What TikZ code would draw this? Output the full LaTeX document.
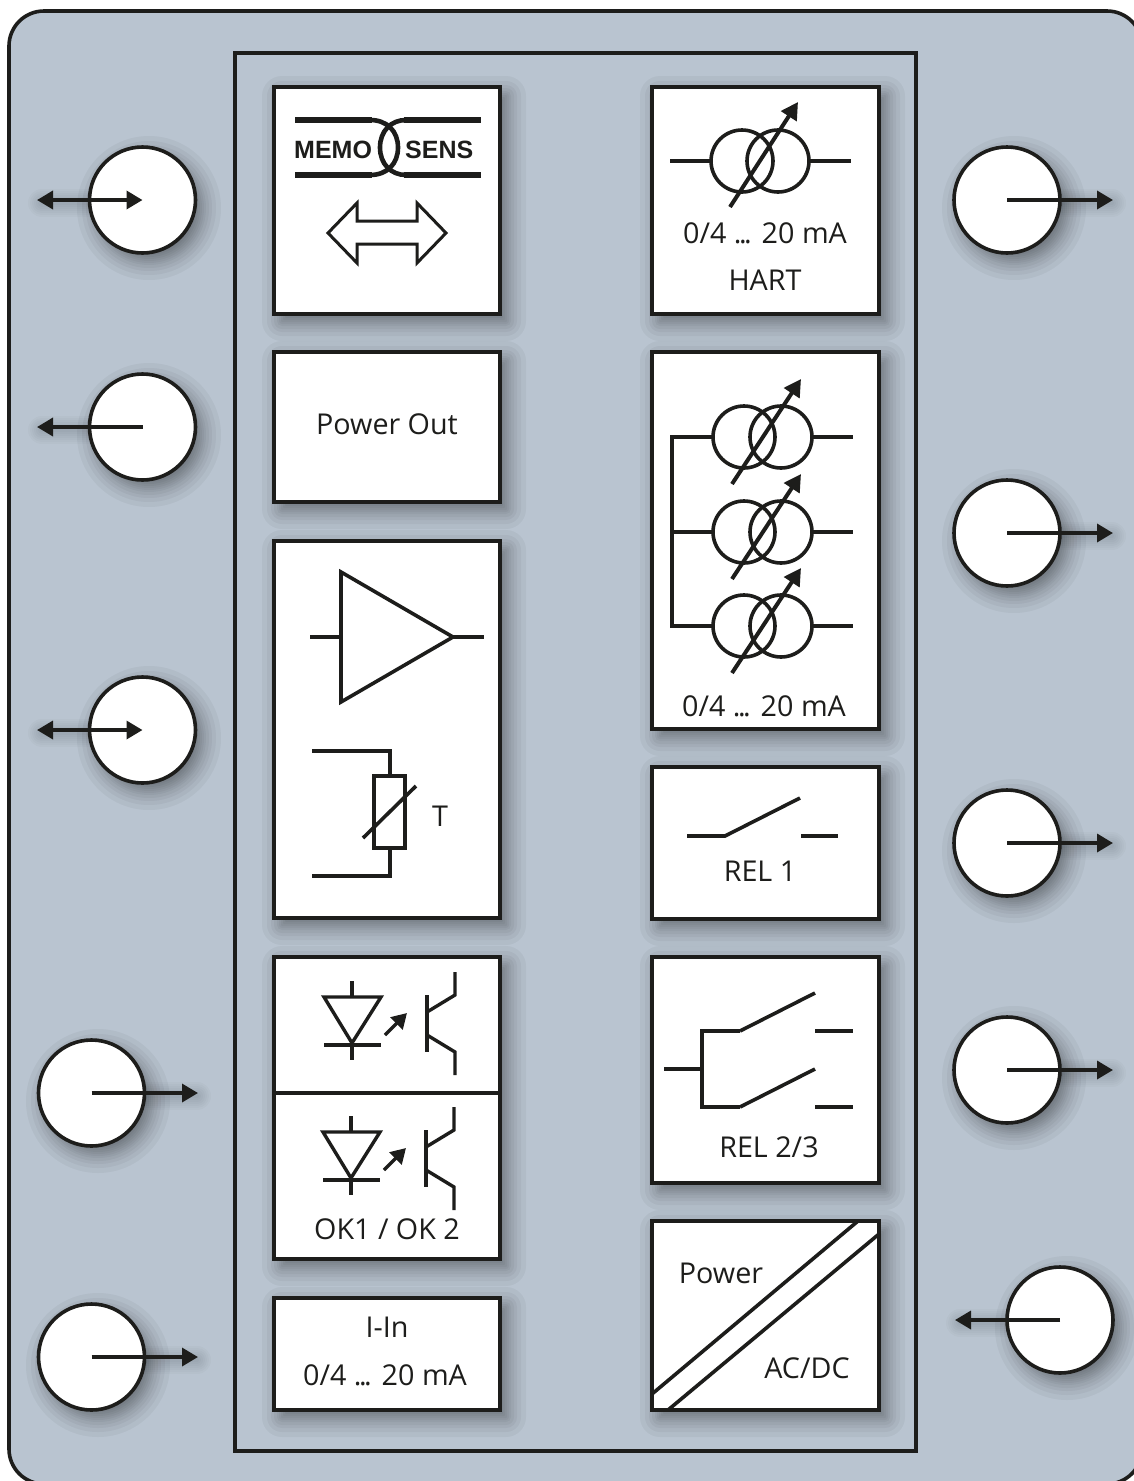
\documentclass[tikz,border=0pt]{standalone}
\usepackage{fontspec}
\setmainfont{Open Sans}
\newfontfamily\memofont{Liberation Sans}[BoldFont={Liberation Sans Bold}]
\usetikzlibrary{arrows.meta}
\definecolor{ink}{HTML}{1D1D1B}
\definecolor{panel}{HTML}{B9C4D0}
\tikzset{
  ln/.style={draw=ink,line width=3.6pt},
  thin ln/.style={draw=ink,line width=3.4pt},
  boxn/.style={draw=ink,line width=3.6pt,fill=white,inner sep=0pt,outer sep=0pt},
  port/.style={circle,draw=ink,line width=3.6pt,fill=white,minimum size=106pt,inner sep=0pt,outer sep=0pt},
  lab/.style={text=ink,font=\fontsize{28.7}{28.7}\selectfont,inner sep=0pt,anchor=base},
  memolab/.style={text=ink,font=\memofont\bfseries\fontsize{25}{25}\selectfont,inner sep=0pt,anchor=base},
  wire/.style={draw=ink,line width=3.5pt,arrows={-Triangle[length=16pt,width=18pt]}},
  wirel/.style={draw=ink,line width=3.5pt,arrows={Triangle[length=16pt,width=18pt]-Triangle[length=16pt,width=18pt]}},
  big tip/.style={draw=ink,line width=4pt,arrows={-Triangle[length=17pt,width=18pt]}},
  small tip/.style={draw=ink,line width=3.4pt,arrows={-Triangle[length=15pt,width=17pt]}},
  veil/.style={fill=black,fill opacity=0.04,draw=none},
}
\newcommand{\dotsrun}{.\kern-2.5pt.\kern-2.5pt.}
% soft shadow of a box
\newcommand{\boxveil}[4]{%
  \foreach \d in {-10,-8,-6,-4,-2,0,2,4,7,10,14,19}{%
    \fill[veil,rounded corners={max(\d,0)*1pt+1pt}] ({#1+7-\d},{#2+8-\d}) rectangle ({#3+7+\d},{#4+8+\d});
  }}
% soft shadow of a port
\newcommand{\portveil}[2]{%
  \foreach \d in {-10,-8,-6,-4,-2,0,2,4,7,10,14,19}{%
    \fill[veil] ({#1+7},{#2+8}) circle[radius={53+\d}];
  }}
% soft shadow of an arrow outside a port
\newcommand{\lineveil}[3]{%
  \foreach \d in {4,8,12,16,20,24,28}{%
    \draw[black,opacity=0.02,line width=\d pt,line cap=round] ({#1+2},{#3+3}) -- ({#2+2},{#3+3});
  }}
% variable current source symbol
\newcommand{\sourcesym}[3]{%
  \draw[ln] (#1,#3) circle[radius=31];
  \draw[ln] (#2,#3) circle[radius=31];
}
\newcommand{\optosym}[2]{%
  \begin{scope}[shift={(#1,#2)}]
    \draw[thin ln] (324,997) -- (381,997) -- (352,1043) -- cycle;
    \draw[thin ln] (324,1045) -- (381,1045);
    \draw[thin ln] (352,981) -- (352,997);
    \draw[thin ln] (352,1045) -- (352,1060);
    \draw[small tip] (385,1035) -- (407,1013);
    \draw[thin ln] (427,995) -- (427,1052);
    \draw[thin ln] (427,1012) -- (455,995) -- (455,972);
    \draw[thin ln] (427,1035) -- (455,1052) -- (455,1075);
  \end{scope}}
\begin{document}
\begin{tikzpicture}[x=1pt,y=-1pt]
\useasboundingbox (0,0) rectangle (1134,1481);
\fill[white] (0,0) rectangle (1134,1481);
\begin{scope}
\clip (0,0) rectangle (1134,1481);
\draw[draw=ink,line width=3.6pt,fill=panel,rounded corners=35pt] (9,11) rectangle (1142,1484);

% shadows
\boxveil{274}{87}{500}{314}
\boxveil{274}{352}{500}{502}
\boxveil{274}{541}{500}{918}
\boxveil{274}{957}{500}{1259}
\boxveil{274}{1298}{500}{1410}
\boxveil{652}{87}{879}{314}
\boxveil{652}{352}{879}{729}
\boxveil{652}{767}{879}{919}
\boxveil{652}{957}{879}{1183}
\boxveil{652}{1221}{879}{1410}
\portveil{142}{200}\portveil{142}{427}\portveil{142}{730}\portveil{91}{1093}\portveil{91}{1357}
\portveil{1007}{200}\portveil{1007}{533}\portveil{1007}{843}\portveil{1007}{1070}\portveil{1060}{1320}
\lineveil{40}{90}{200}\lineveil{40}{90}{427}\lineveil{40}{90}{730}
\lineveil{144}{195}{1093}\lineveil{144}{195}{1357}
\lineveil{1060}{1110}{200}\lineveil{1060}{1110}{533}\lineveil{1060}{1110}{843}\lineveil{1060}{1110}{1070}
\lineveil{958}{1008}{1320}

% inner frame
\draw[draw=ink,line width=3.6pt] (235,53) rectangle (916,1451);

% boxes
\node[boxn,minimum width=226pt,minimum height=227pt] (memo) at (387,200.5) {};
\node[boxn,minimum width=226pt,minimum height=150pt] (pout) at (387,427) {};
\node[boxn,minimum width=226pt,minimum height=377pt] (amp) at (387,729.5) {};
\node[boxn,minimum width=226pt,minimum height=302pt] (ok) at (387,1108) {};
\node[boxn,minimum width=226pt,minimum height=112pt] (iin) at (387,1354) {};
\node[boxn,minimum width=227pt,minimum height=227pt] (hart) at (765.5,200.5) {};
\node[boxn,minimum width=227pt,minimum height=377pt] (aout) at (765.5,540.5) {};
\node[boxn,minimum width=227pt,minimum height=152pt] (rela) at (765.5,843) {};
\node[boxn,minimum width=227pt,minimum height=226pt] (relb) at (765.5,1070) {};
\node[boxn,minimum width=227pt,minimum height=189pt] (pwr) at (765.5,1315.5) {};

% Memosens logo
\draw[draw=ink,line width=6pt] (295,120) -- (372,120);
\draw[draw=ink,line width=6pt] (295,175) -- (372,175);
\draw[draw=ink,line width=6pt] (404,120) -- (481,120);
\draw[draw=ink,line width=6pt] (404,175) -- (481,175);
\draw[draw=ink,line width=4.6pt] (370,120) .. controls (387,120) and (398,131) .. (398,147.5) .. controls (398,164) and (387,175) .. (370,175);
\draw[draw=ink,line width=4.6pt] (406,120) .. controls (391,120) and (380,131) .. (380,147.5) .. controls (380,164) and (391,175) .. (406,175);
\node[memolab,anchor=base west] (memot) at (294,158) {MEMO};
\node[memolab,anchor=base west] (senst) at (405,158) {SENS};
\draw[draw=ink,line width=3pt] (328,233) -- (357,203) -- (357,221) -- (417,221) -- (417,203) -- (446,233) -- (417,263) -- (417,244) -- (357,244) -- (357,263) -- cycle;

% Power out
\node[lab] (poutt) at (387,434) {Power Out};

% amplifier
\draw[ln] (341,572) -- (453,637) -- (341,702) -- cycle;
\draw[ln] (310,637) -- (341,637);
\draw[ln] (453,637) -- (484,637);
% thermistor
\draw[ln] (312,751) -- (390,751) -- (390,776);
\draw[ln] (312,876) -- (390,876) -- (390,848);
\draw[ln] (374,776) rectangle (405,848);
\draw[ln] (363,838) -- (416,786);
\node[lab] (tt) at (440,826) {T};

% opto couplers
\draw[draw=ink,line width=3.4pt] (ok.west |- 0,1093) -- (ok.east |- 0,1093);
\optosym{0}{0}
\optosym{-1}{135}
\node[lab] (okt) at (387,1239) {OK1 / OK 2};

% I-In
\node[lab] (iina) at (387,1337) {I-In};
\node[lab] (iinb) at (385,1385) {0/4 \dotsrun{} 20 mA};

% HART source
\sourcesym{742}{778}{161}
\draw[ln] (670,161) -- (711,161);
\draw[ln] (809,161) -- (851,161);
\draw[big tip] (730,207) -- (798,102);
\node[lab] (harta) at (765,243) {0/4 \dotsrun{} 20 mA};
\node[lab] (hartb) at (765,290) {HART};

% triple source
\foreach \yy/\dd in {437/0,532/95,626/189}{
  \sourcesym{744}{781}{\yy}
  \draw[ln] (672,\yy) -- (713,\yy);
  \draw[ln] (812,\yy) -- (853,\yy);
  \draw[big tip] (732,{484+\dd}) -- (801,{379+\dd});
}
\draw[ln,line join=miter] (713,437) -- (672,437) -- (672,626) -- (713,626);
\node[lab] (aoutt) at (764,716) {0/4 \dotsrun{} 20 mA};

% relay 1
\draw[ln] (687,836) -- (725,836) -- (800,798);
\draw[ln] (801,836) -- (838,836);
\node[lab] (relat) at (760,881) {REL 1};

% relay 2/3
\draw[ln] (664,1069) -- (702,1069);
\draw[ln] (740,1031) -- (702,1031) -- (702,1107) -- (740,1107);
\draw[ln] (740,1031) -- (815,993);
\draw[ln] (740,1107) -- (815,1069);
\draw[ln] (815,1031) -- (853,1031);
\draw[ln] (815,1107) -- (853,1107);
\node[lab] (relbt) at (769,1157) {REL 2/3};

% power
\draw[ln] (652,1394) -- (858,1221);
\draw[ln] (668,1410) -- (879,1234);
\node[lab] (pwra) at (721,1283) {Power};
\node[lab] (pwrb) at (807,1378) {AC/DC};

% ports
\node[port] (pl1) at (142.5,200) {};
\node[port] (pl2) at (142.5,427) {};
\node[port] (pl3) at (142.5,730) {};
\node[port] (pl4) at (91.5,1093) {};
\node[port] (pl5) at (91.5,1357) {};
\node[port] (pr1) at (1007,200) {};
\node[port] (pr2) at (1007,533) {};
\node[port] (pr3) at (1007,843) {};
\node[port] (pr4) at (1007,1070) {};
\node[port] (pr5) at (1060,1320) {};
\coordinate (el1) at (37,200);
\coordinate (el2) at (37,427);
\coordinate (el3) at (37,730);
\coordinate (el4) at (198,1093);
\coordinate (el5) at (198,1357);
\coordinate (er1) at (1113,200);
\coordinate (er2) at (1113,533);
\coordinate (er3) at (1113,843);
\coordinate (er4) at (1113,1070);
\coordinate (er5) at (955,1320);
\draw[wirel] (el1) -- (pl1.center);
\draw[wire] (pl2.center) -- (el2);
\draw[wirel] (el3) -- (pl3.center);
\draw[wire] (pl4.center) -- (el4);
\draw[wire] (pl5.center) -- (el5);
\draw[wire] (pr1.center) -- (er1);
\draw[wire] (pr2.center) -- (er2);
\draw[wire] (pr3.center) -- (er3);
\draw[wire] (pr4.center) -- (er4);
\draw[wire] (pr5.center) -- (er5);
\end{scope}
\end{tikzpicture}
\end{document}
